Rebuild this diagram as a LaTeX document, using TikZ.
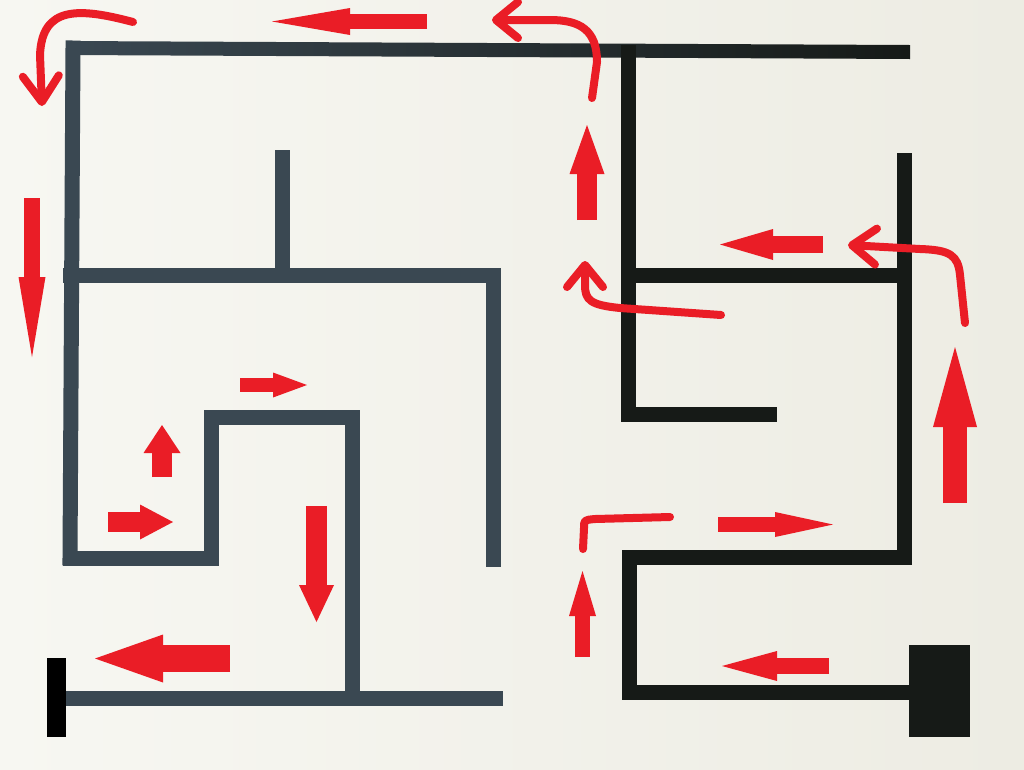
\documentclass[tikz,border=0pt]{standalone}
\usepackage{tikz}
\usepackage{xcolor}
\usetikzlibrary{arrows.meta}

\begin{document}
\begin{tikzpicture}[x=1pt,y=-1pt]

	% ============================================================
	% COLORS
	% ============================================================
	\definecolor{paperLight}{HTML}{F7F7F2}
	\definecolor{paperDark}{HTML}{EDECE3}
	\definecolor{wallGray}{HTML}{3A4852}
	\definecolor{wallBlack}{HTML}{161A17}
	\definecolor{markRed}{HTML}{EA1D26}

	% ============================================================
	% STYLES
	% ============================================================
	\tikzset{
		wall/.style={draw=wallGray, line width=15pt, line cap=rect},
		darkWall/.style={wall, draw=wallBlack},
		blockArr/.style={draw=markRed, line cap=butt},
		scribble/.style={draw=markRed, line width=8pt, line cap=round, line join=round},
		barb/.style={-{Straight Barb[length=#1, width=36pt, line cap=round, line join=round]}}
	}

	% ============================================================
	% CANVAS (1024 x 769, y downward)
	% ============================================================
	\shade[left color=paperLight, right color=paperDark] (0,0) rectangle (1024,769);
	\useasboundingbox (0,0) rectangle (1024,769);

	% ============================================================
	% WALLS - LEFT PART
	% ============================================================
	\shade[left color=wallGray, right color=wallBlack] (66,41) -- (910,45) -- (910,59) -- (66,55) -- cycle;
	\draw[wall] (73,48) -- (70,558);
	\draw[wall] (70,275) -- (493,275);
	\draw[wall] (282,157) -- (282,275);
	\draw[wall] (493,275) -- (493,559);
	\draw[wall] (70,558) -- (211,558);
	\draw[wall] (211,558) -- (211,417);
	\draw[wall] (211,417) -- (352,417);
	\draw[wall] (352,417) -- (352,698);
	\draw[wall] (73,698) -- (495,698);
	\fill[black] (47,658) rectangle (66,737);

	% ============================================================
	% WALLS - RIGHT PART
	% ============================================================
	\draw[darkWall] (628,52) -- (628,414);
	\draw[darkWall] (628,414) -- (769,414);
	\draw[darkWall] (628,275) -- (904,275);
	\draw[darkWall] (904,160) -- (904,557);
	\draw[darkWall] (629,557) -- (904,557);
	\draw[darkWall] (629,557) -- (629,692);
	\draw[darkWall] (629,692) -- (910,692);
	\fill[wallBlack] (909,645) rectangle (970,737);

	% ============================================================
	% BLOCK ARROWS
	% ============================================================
	\draw[blockArr, line width=15pt, -{Triangle[length=78pt, width=27pt, line width=0pt 0 0]}] (427,21.5) -- (272,21.5);
	\draw[blockArr, line width=16pt, -{Triangle[length=80pt, width=27pt, line width=0pt 0 0]}] (32,198) -- (32,357);
	\draw[blockArr, line width=20pt, -{Triangle[length=49pt, width=35pt, line width=0pt 0 0]}] (587,220) -- (587,125);
	\draw[blockArr, line width=17pt, -{Triangle[length=53pt, width=31pt, line width=0pt 0 0]}] (823,244.5) -- (720,244.5);
	\draw[blockArr, line width=24pt, -{Triangle[length=80pt, width=44pt, line width=0pt 0 0]}] (955,503) -- (955,347);
	\draw[blockArr, line width=14pt, -{Triangle[length=34pt, width=25pt, line width=0pt 0 0]}] (240,385) -- (307,385);
	\draw[blockArr, line width=20pt, -{Triangle[length=28pt, width=37pt, line width=0pt 0 0]}] (162,477) -- (162,425);
	\draw[blockArr, line width=20pt, -{Triangle[length=33pt, width=35pt, line width=0pt 0 0]}] (108,522) -- (173,522);
	\draw[blockArr, line width=21pt, -{Triangle[length=37pt, width=35pt, line width=0pt 0 0]}] (316.5,506) -- (316.5,622);
	\draw[blockArr, line width=27pt, -{Triangle[length=68pt, width=48pt, line width=0pt 0 0]}] (230,658.5) -- (95,658.5);
	\draw[blockArr, line width=15pt, -{Triangle[length=45pt, width=27pt, line width=0pt 0 0]}] (582.5,657) -- (582.5,571);
	\draw[blockArr, line width=15pt, -{Triangle[length=58pt, width=25pt, line width=0pt 0 0]}] (718,524.5) -- (833,524.5);
	\draw[blockArr, line width=16pt, -{Triangle[length=55pt, width=30pt, line width=0pt 0 0]}] (829,666) -- (722,666);

	% ============================================================
	% HAND-DRAWN ARROWS
	% ============================================================
	\draw[scribble, barb=26pt] (133,22) .. controls (80,8) and (42,5) .. (40,55) -- (42,106);
	\draw[scribble, barb=22pt] (592,98) -- (597,62) .. controls (597,30) and (580,20) .. (550,20) -- (492,20);
	\draw[scribble, barb=22pt] (721,315) -- (620,308) .. controls (590,305) and (585,300) .. (585,285) -- (585,261);
	\draw[scribble, barb=24pt] (965,323) -- (960,275) .. controls (958,255) and (950,250) .. (920,249) -- (848,245);
	\draw[scribble] (583,549) -- (584,528) .. controls (584,520) .. (595,519) -- (670,517);

\end{tikzpicture}
\end{document}
